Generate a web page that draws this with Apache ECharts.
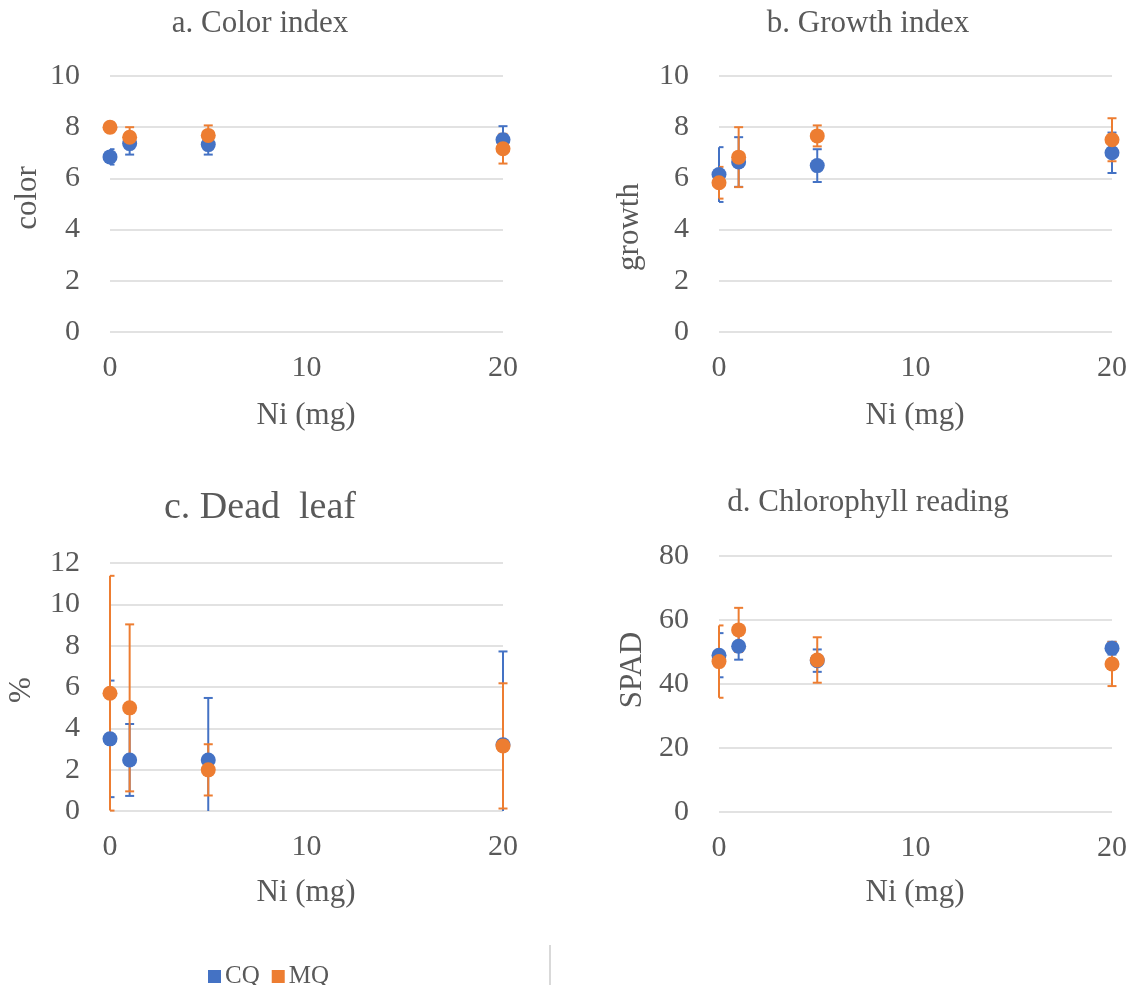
<!DOCTYPE html>
<html>
<head>
<meta charset="utf-8">
<script src="https://cdn.jsdelivr.net/npm/echarts@6/dist/echarts.min.js"></script>
<style>html,body{margin:0;padding:0;background:#fff;}#c{width:1133px;height:985px;}</style>
</head>
<body>
<div id="c"></div>
<script>
// ---- data ----
const niLevels = [0, 1, 5, 20];
const xTicks = [0, 10, 20];

const colorCQ = [6.84, 7.36, 7.32, 7.51];
const colorCQErr = [0.3, 0.43, 0.39, 0.53];
const colorMQ = [8.0, 7.61, 7.68, 7.16];
const colorMQErr = [0.2, 0.39, 0.39, 0.58];

const growthCQ = [6.15, 6.64, 6.5, 7.0];
const growthCQErr = [1.07, 0.97, 0.64, 0.79];
const growthMQ = [5.83, 6.83, 7.66, 7.51];
const growthMQErr = [0.62, 1.17, 0.41, 0.84];

const deadCQ = [3.49, 2.47, 2.47, 3.2];
const deadCQErr = [2.82, 1.74, 3.0, 4.52];
const deadMQ = [5.7, 4.99, 1.99, 3.15];
const deadMQErr = [5.68, 4.04, 1.24, 3.03];

const spadCQ = [49.0, 51.8, 47.3, 51.2];
const spadCQErr = [6.9, 4.2, 3.5, 2.0];
const spadMQ = [47.0, 56.9, 47.5, 46.25];
const spadMQErr = [11.3, 6.9, 7.1, 6.9];

const panelTitles = ['a. Color index', 'b. Growth index', 'c. Dead  leaf', 'd. Chlorophyll reading'];
const yTitles = ['color', 'growth', '%', 'SPAD'];
const xTitle = 'Ni (mg)';
const yMax = [10, 10, 12, 80];
const yStep = [2, 2, 2, 20];
const seriesNames = ['CQ', 'MQ'];

// ---- styling ----
const BLUE = '#4472C4', ORANGE = '#ED7D31', TXT = '#595959', GRID = '#d9d9d9';
const FONT = "'Liberation Serif', 'Times New Roman', serif";

const panels = [
  {cq: colorCQ, cqe: colorCQErr, mq: colorMQ, mqe: colorMQErr},
  {cq: growthCQ, cqe: growthCQErr, mq: growthMQ, mqe: growthMQErr},
  {cq: deadCQ, cqe: deadCQErr, mq: deadMQ, mqe: deadMQErr},
  {cq: spadCQ, cqe: spadCQErr, mq: spadMQ, mqe: spadMQErr}
];

const grids = [
  {left: 110, top: 76, width: 393, height: 256},
  {left: 719, top: 76, width: 393, height: 256},
  {left: 110, top: 563, width: 393, height: 248},
  {left: 719, top: 556, width: 393, height: 256}
];

function errRenderer(color) {
  return function (params, api) {
    const x = api.value(0), lo = api.value(1), hi = api.value(2);
    const cs = params.coordSys;
    const top = cs.y, bottom = cs.y + cs.height, left = cs.x;
    const pHi = api.coord([x, hi]), pLo = api.coord([x, lo]);
    const px = pHi[0];
    const y1 = Math.max(pHi[1], top), y2 = Math.min(pLo[1], bottom);
    const half = 4.5;
    const cl = Math.max(px - half, left), cr = px + half;
    const style = {stroke: color, lineWidth: 2};
    const children = [{type: 'line', shape: {x1: px, y1: y1, x2: px, y2: y2}, style: style}];
    if (pHi[1] >= top - 0.5) children.push({type: 'line', shape: {x1: cl, y1: pHi[1], x2: cr, y2: pHi[1]}, style: style});
    if (pLo[1] <= bottom + 0.5) children.push({type: 'line', shape: {x1: cl, y1: pLo[1], x2: cr, y2: pLo[1]}, style: style});
    return {type: 'group', children: children};
  };
}

const xAxis = [], yAxis = [], series = [];
panels.forEach((p, i) => {
  xAxis.push({
    type: 'value', gridIndex: i, min: xTicks[0], max: xTicks[xTicks.length - 1], interval: xTicks[1] - xTicks[0],
    axisLine: {show: false}, axisTick: {show: false}, splitLine: {show: false},
    axisLabel: {fontSize: 30, color: TXT, fontFamily: FONT, margin: 21}
  });
  yAxis.push({
    type: 'value', gridIndex: i, min: 0, max: yMax[i], interval: yStep[i],
    axisLine: {show: false}, axisTick: {show: false},
    splitLine: {show: true, lineStyle: {color: GRID, width: 1.5}},
    axisLabel: {fontSize: 30, color: TXT, fontFamily: FONT, margin: 30}
  });
  const errCQ = niLevels.map((x, k) => [x, p.cq[k] - p.cqe[k], p.cq[k] + p.cqe[k]]);
  const errMQ = niLevels.map((x, k) => [x, p.mq[k] - p.mqe[k], p.mq[k] + p.mqe[k]]);
  series.push({type: 'custom', xAxisIndex: i, yAxisIndex: i, renderItem: errRenderer(BLUE), data: errCQ, z: 1, silent: true, clip: false});
  series.push({type: 'custom', xAxisIndex: i, yAxisIndex: i, renderItem: errRenderer(ORANGE), data: errMQ, z: 1, silent: true, clip: false});
  series.push({type: 'scatter', name: seriesNames[0], xAxisIndex: i, yAxisIndex: i, symbolSize: 15, clip: false,
    itemStyle: {color: BLUE, opacity: 1}, data: niLevels.map((x, k) => [x, p.cq[k]]), z: 2});
  series.push({type: 'scatter', name: seriesNames[1], xAxisIndex: i, yAxisIndex: i, symbolSize: 15, clip: false,
    itemStyle: {color: ORANGE, opacity: 1}, data: niLevels.map((x, k) => [x, p.mq[k]]), z: 3});
});

function txt(text, x, y, size, rot) {
  return {type: 'text', x: x, y: y, rotation: rot || 0,
    style: {text: text, font: size + 'px ' + FONT, fill: TXT, textAlign: 'center', textVerticalAlign: 'middle'}};
}

const titlePos = [[260, 24, 31], [868, 24, 31], [260, 508, 38], [868, 503, 31]];
const yTitlePos = [[28, 198], [630, 227], [22, 690], [633, 670]];
const xTitlePos = [[306, 416], [915, 416], [306, 893], [915, 893]];
const graphic = [];
titlePos.forEach((t, i) => graphic.push(txt(panelTitles[i], t[0], t[1], t[2])));
yTitlePos.forEach((t, i) => graphic.push(txt(yTitles[i], t[0], t[1], 31, Math.PI / 2)));
xTitlePos.forEach((t) => graphic.push(txt(xTitle, t[0], t[1], 31)));
graphic.push({type: 'line', shape: {x1: 550, y1: 945, x2: 550, y2: 985}, style: {stroke: GRID, lineWidth: 2}});

const option = {
  animation: false,
  backgroundColor: '#fff',
  grid: grids,
  xAxis: xAxis,
  yAxis: yAxis,
  series: series,
  graphic: graphic,
  legend: {
    data: seriesNames, left: 203, top: 959, icon: 'rect', itemWidth: 13, itemHeight: 13, itemGap: 12,
    textStyle: {fontSize: 25, color: TXT, fontFamily: FONT, padding: [0, 0, 0, -1]}
  }
};

const chart = echarts.init(document.getElementById('c'), null, {renderer: 'canvas'});
chart.setOption(option);
</script>
</body>
</html>
